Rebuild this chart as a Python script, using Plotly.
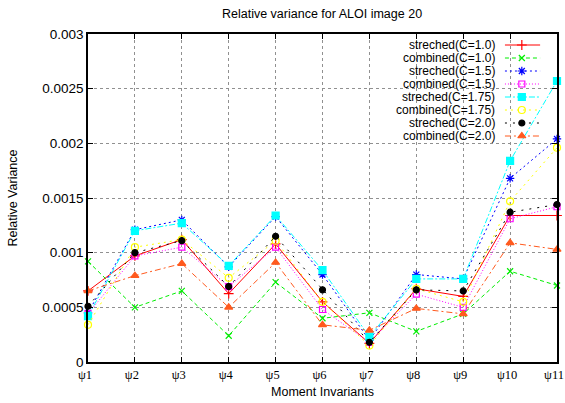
import plotly.graph_objects as go

# ---- data ----
x_idx = [1, 2, 3, 4, 5, 6, 7, 8, 9, 10, 11]
x_labels = ["ψ1", "ψ2", "ψ3", "ψ4", "ψ5", "ψ6", "ψ7", "ψ8", "ψ9", "ψ10", "ψ11"]
y_ticks = [0, 0.0005, 0.001, 0.0015, 0.002, 0.0025, 0.003]
y_tick_labels = ["0", "0.0005", "0.001", "0.0015", "0.002", "0.0025", "0.003"]

names = ["streched(C=1.0)", "combined(C=1.0)", "streched(C=1.5)", "combined(C=1.5)",
         "streched(C=1.75)", "combined(C=1.75)", "streched(C=2.0)", "combined(C=2.0)"]

streched_10 = [0.00065, 0.00097, 0.00112, 0.000625, 0.00108, 0.00055, 0.00017, 0.00067, 0.00060, 0.00134, 0.00134]
combined_10 = [0.00092, 0.00050, 0.00065, 0.00024, 0.00073, 0.00040, 0.00045, 0.00028, 0.00044, 0.00083, 0.00070]
streched_15 = [0.00045, 0.00121, 0.00130, 0.00087, 0.00133, 0.00080, 0.00020, 0.00080, 0.00076, 0.00168, 0.00204]
combined_15 = [0.00044, 0.00097, 0.00105, 0.00069, 0.00105, 0.00048, 0.00018, 0.00062, 0.00050, 0.00131, 0.00142]
streched_175 = [0.00042, 0.00120, 0.00127, 0.00088, 0.00134, 0.00084, 0.00023, 0.00076, 0.00076, 0.00184, 0.00257]
combined_175 = [0.00034, 0.00105, 0.00112, 0.00077, 0.00111, 0.00055, 0.00015, 0.00067, 0.00055, 0.00147, 0.00196]
streched_20 = [0.00051, 0.00100, 0.00111, 0.00069, 0.00115, 0.00066, 0.00018, 0.00066, 0.00065, 0.00137, 0.00144]
combined_20 = [0.00065, 0.00079, 0.00090, 0.00050, 0.00091, 0.00034, 0.00029, 0.00049, 0.00044, 0.00109, 0.00103]

series = [streched_10, combined_10, streched_15, combined_15,
          streched_175, combined_175, streched_20, combined_20]

# ---- styles ----
colors = ["#ff0000", "#00ee00", "#0000ff", "#ff00ff", "#00ffff", "#ffff00", "#000000", "#ff5a1e"]
dashes = ["solid", "4px,3px", "2px,3px", "1px,2px", "6px,2px,2px,2px", "2px,4px", "2px,6px", "6px,3px,2px,3px"]
symbols = ["cross-thin", "x-thin", "asterisk-open", "square-open", "square", "circle-open", "circle", "triangle-up"]
msizes = [7, 6, 7, 6, 7, 7, 6, 7]

fig = go.Figure()
for name, vals, c, d, s, ms in zip(names, series, colors, dashes, symbols, msizes):
    fig.add_trace(go.Scatter(
        x=x_idx, y=vals, mode="lines+markers", name=name,
        line=dict(color=c, width=1, dash=d),
        marker=dict(symbol=s, size=ms, color=c, line=dict(color=c, width=1.2)),
        showlegend=False, cliponaxis=False,
    ))

# ---- manual gnuplot-style legend (text left, sample right) ----
leg_text_x = 0.870
leg_line_x0, leg_line_x1, leg_mark_x = 0.889, 0.964, 0.925
leg_y = [(362 - yy) / 328 for yy in [45, 58, 71, 84, 97, 110, 123, 136]]
for name, c, d, s, ms, ly in zip(names, colors, dashes, symbols, msizes, leg_y):
    fig.add_annotation(x=leg_text_x, y=ly, xref="paper", yref="paper", text=name,
                       showarrow=False, xanchor="right", yanchor="middle", borderpad=0,
                       font=dict(family="Liberation Sans, Arial", size=12, color="#000"))
    fig.add_shape(type="line", xref="paper", yref="paper", x0=leg_line_x0, x1=leg_line_x1,
                  y0=ly, y1=ly, line=dict(color=c, width=1, dash=d))
    fig.add_trace(go.Scatter(x=[leg_mark_x], y=[ly], xaxis="x2", yaxis="y2", mode="markers",
                             marker=dict(symbol=s, size=ms, color=c, line=dict(color=c, width=1.2)),
                             showlegend=False, hoverinfo="skip"))

axis_font = dict(family="Liberation Sans, Arial", size=13.5, color="#000")
fig.update_layout(
    width=565, height=403,
    margin=dict(l=88, r=8, t=34, b=41, autoexpand=False),
    paper_bgcolor="white", plot_bgcolor="white",
    title=dict(text="Relative variance for ALOI image 20", x=0.57, xanchor="center",
               y=0.965, yanchor="middle",
               font=dict(family="Liberation Sans, Arial", size=12.5, color="#000")),
    xaxis=dict(range=[1, 11], tickvals=x_idx, ticktext=x_labels,
               tickfont=dict(family="Liberation Serif, Times New Roman", size=12.5, color="#000"),
               ticklabeloverflow="allow", automargin=False, ticklabelshift=-3,
               showgrid=True, gridcolor="#909090", griddash="dot", gridwidth=1,
               ticks="inside", ticklen=5, tickcolor="#000", mirror="ticks",
               showline=True, linecolor="#000", linewidth=1.5, zeroline=False,
               title=dict(text="Moment Invariants",
                          font=dict(family="Liberation Sans, Arial", size=12.5, color="#000"),
                          standoff=6)),
    yaxis=dict(range=[0, 0.003], tickvals=y_ticks, ticktext=y_tick_labels,
               tickfont=axis_font, automargin=False,
               showgrid=True, gridcolor="#909090", griddash="dot", gridwidth=1,
               ticks="inside", ticklen=5, tickcolor="#000", mirror="ticks",
               showline=True, linecolor="#000", linewidth=1.5, zeroline=False,
               title=dict(text="Relative Variance",
                          font=dict(family="Liberation Sans, Arial", size=12.5, color="#000"),
                          standoff=22)),
    xaxis2=dict(range=[0, 1], overlaying="x", visible=False, fixedrange=True),
    yaxis2=dict(range=[0, 1], overlaying="y", visible=False, fixedrange=True),
    showlegend=False,
)

fig.write_html("out.html")
